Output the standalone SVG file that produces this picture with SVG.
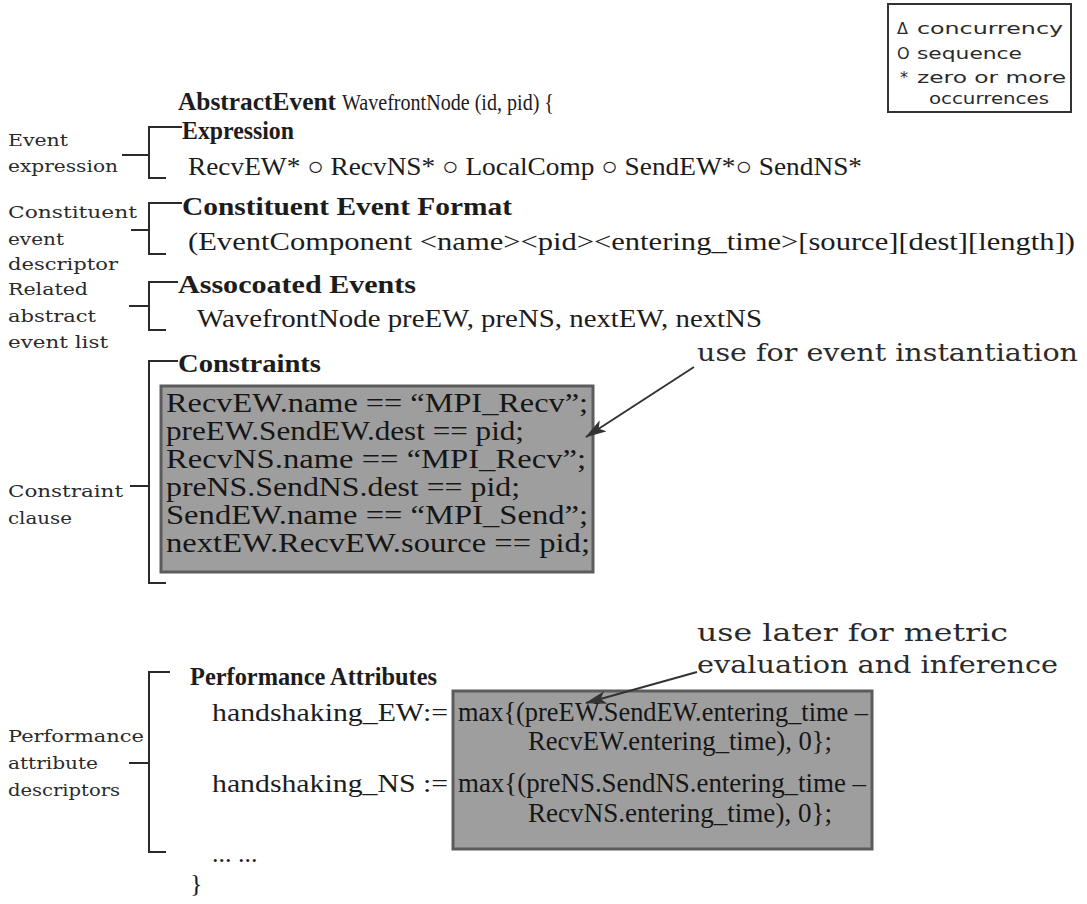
<svg xmlns="http://www.w3.org/2000/svg" width="1087" height="904" viewBox="0 0 1087 904">
  <defs>
    <style>
      .main { font-family: "Liberation Serif", "Times New Roman", serif; font-size: 26px; fill: #1c1c1c; }
      .bold { font-weight: bold; }
      .head { font-family: "Liberation Serif", "Times New Roman", serif; font-size: 25px; fill: #1c1c1c; }
      .headreg { font-family: "Liberation Serif", "Times New Roman", serif; font-size: 24px; fill: #1c1c1c; }
      .boxed { font-family: "Liberation Serif", "Times New Roman", serif; font-size: 27px; fill: #161616; }
      .boxed2 { font-family: "Liberation Serif", "Times New Roman", serif; font-size: 27px; fill: #161616; }
      .side { font-family: "DejaVu Serif", "Liberation Serif", serif; font-size: 16px; fill: #2a2a2a; }
      .legend { font-family: "DejaVu Sans", "Liberation Sans", sans-serif; font-size: 16px; fill: #2a2a2a; }
      .note { font-family: "DejaVu Serif", "Liberation Serif", serif; font-size: 25px; fill: #2a2a2a; }
      .bracket { fill: none; stroke: #2a2a2a; stroke-width: 2; }
      .shade { fill: #9e9e9e; stroke: #5c5c5c; stroke-width: 3; }
      .pointer { fill: none; stroke: #333; stroke-width: 2; }
    </style>
    <marker id="head" viewBox="0 0 20 12" refX="19" refY="6" markerWidth="22" markerHeight="13" markerUnits="userSpaceOnUse" orient="auto">
      <path d="M0,0 L20,6 L0,12 L5,6 Z" fill="#333"/>
    </marker>
    <clipPath id="clip-constraints">
      <rect x="162" y="387" width="430" height="183"/>
    </clipPath>
  </defs>
  <rect width="1087" height="904" fill="#ffffff"/>

  <!-- legend -->
  <g id="legend">
    <rect x="888" y="4" width="183" height="108" fill="#ffffff" stroke="#333" stroke-width="2"/>
    <text class="legend" x="897" y="34">Δ</text>
    <text class="legend" x="917" y="34" textLength="146" lengthAdjust="spacingAndGlyphs">concurrency</text>
    <text class="legend" x="897" y="59">O</text>
    <text class="legend" x="917" y="59" textLength="105" lengthAdjust="spacingAndGlyphs">sequence</text>
    <text class="legend" x="900" y="83">*</text>
    <text class="legend" x="917" y="83" textLength="149" lengthAdjust="spacingAndGlyphs">zero or more</text>
    <text class="legend" x="929" y="104" textLength="120" lengthAdjust="spacingAndGlyphs">occurrences</text>
  </g>

  <!-- header -->
  <g id="header">
    <text class="head bold" x="178" y="110" textLength="158" lengthAdjust="spacingAndGlyphs">AbstractEvent</text>
    <text class="headreg" x="342" y="110" textLength="212" lengthAdjust="spacingAndGlyphs">WavefrontNode (id, pid) {</text>
  </g>

  <!-- event expression -->
  <g id="expression">
    <text class="main bold" x="182" y="139" textLength="112" lengthAdjust="spacingAndGlyphs">Expression</text>
    <text class="main" x="188" y="175" textLength="674" lengthAdjust="spacingAndGlyphs">RecvEW* ○ RecvNS* ○ LocalComp ○ SendEW*○ SendNS*</text>
  </g>

  <!-- constituent event format -->
  <g id="format">
    <text class="main bold" x="182" y="215" textLength="330" lengthAdjust="spacingAndGlyphs">Constituent Event Format</text>
    <text class="main" x="188" y="250" textLength="887" lengthAdjust="spacingAndGlyphs">(EventComponent  &lt;name&gt;&lt;pid&gt;&lt;entering_time&gt;[source][dest][length])</text>
  </g>

  <!-- associated events -->
  <g id="associated">
    <text class="main bold" x="178" y="293" textLength="238" lengthAdjust="spacingAndGlyphs">Assocoated Events</text>
    <text class="main" x="197" y="327" textLength="565" lengthAdjust="spacingAndGlyphs">WavefrontNode preEW, preNS, nextEW, nextNS</text>
  </g>

  <!-- constraints -->
  <g id="constraints">
    <text class="main bold" x="178" y="372" textLength="143" lengthAdjust="spacingAndGlyphs">Constraints</text>
    <rect class="shade" x="161" y="386" width="432" height="186"/>
    <g clip-path="url(#clip-constraints)">
      <text class="boxed" x="166" y="412" textLength="422" lengthAdjust="spacingAndGlyphs">RecvEW.name == “MPI_Recv”;</text>
      <text class="boxed" x="166" y="440" textLength="358" lengthAdjust="spacingAndGlyphs">preEW.SendEW.dest == pid;</text>
      <text class="boxed" x="166" y="468" textLength="420" lengthAdjust="spacingAndGlyphs">RecvNS.name == “MPI_Recv”;</text>
      <text class="boxed" x="166" y="496" textLength="354" lengthAdjust="spacingAndGlyphs">preNS.SendNS.dest == pid;</text>
      <text class="boxed" x="166" y="524" textLength="422" lengthAdjust="spacingAndGlyphs">SendEW.name == “MPI_Send”;</text>
      <text class="boxed" x="166" y="552" textLength="424" lengthAdjust="spacingAndGlyphs">nextEW.RecvEW.source == pid;</text>
      <text class="boxed" x="166" y="581">... ...</text>
    </g>
  </g>

  <!-- performance attributes -->
  <g id="performance">
    <text class="main bold" x="190" y="685" textLength="247" lengthAdjust="spacingAndGlyphs">Performance Attributes</text>
    <text class="main" x="212" y="721" textLength="236" lengthAdjust="spacingAndGlyphs">handshaking_EW:=</text>
    <text class="main" x="212" y="792" textLength="236" lengthAdjust="spacingAndGlyphs">handshaking_NS :=</text>
    <rect class="shade" x="453" y="691" width="419" height="158"/>
    <text class="boxed2" x="458" y="721" textLength="410" lengthAdjust="spacingAndGlyphs">max{(preEW.SendEW.entering_time –</text>
    <text class="boxed2" x="528" y="750" textLength="304" lengthAdjust="spacingAndGlyphs">RecvEW.entering_time), 0};</text>
    <text class="boxed2" x="458" y="792" textLength="408" lengthAdjust="spacingAndGlyphs">max{(preNS.SendNS.entering_time –</text>
    <text class="boxed2" x="528" y="822" textLength="304" lengthAdjust="spacingAndGlyphs">RecvNS.entering_time), 0};</text>
    <text class="main" x="212" y="862">... ...</text>
    <text class="main" x="190" y="892">}</text>
  </g>

  <!-- side labels -->
  <g id="labels">
    <text class="side" x="8" y="146" textLength="60" lengthAdjust="spacingAndGlyphs">Event</text>
    <text class="side" x="8" y="172" textLength="110" lengthAdjust="spacingAndGlyphs">expression</text>
    <text class="side" x="8" y="218" textLength="129" lengthAdjust="spacingAndGlyphs">Constituent</text>
    <text class="side" x="8" y="245" textLength="56" lengthAdjust="spacingAndGlyphs">event</text>
    <text class="side" x="8" y="270" textLength="110" lengthAdjust="spacingAndGlyphs">descriptor</text>
    <text class="side" x="8" y="295" textLength="80" lengthAdjust="spacingAndGlyphs">Related</text>
    <text class="side" x="8" y="322" textLength="88" lengthAdjust="spacingAndGlyphs">abstract</text>
    <text class="side" x="8" y="348" textLength="100" lengthAdjust="spacingAndGlyphs">event list</text>
    <text class="side" x="8" y="497" textLength="115" lengthAdjust="spacingAndGlyphs">Constraint</text>
    <text class="side" x="8" y="524" textLength="64" lengthAdjust="spacingAndGlyphs">clause</text>
    <text class="side" x="8" y="742" textLength="136" lengthAdjust="spacingAndGlyphs">Performance</text>
    <text class="side" x="8" y="769" textLength="90" lengthAdjust="spacingAndGlyphs">attribute</text>
    <text class="side" x="8" y="796" textLength="112" lengthAdjust="spacingAndGlyphs">descriptors</text>
  </g>

  <!-- notes -->
  <g id="notes">
    <text class="note" x="697" y="361" textLength="381" lengthAdjust="spacingAndGlyphs">use for event instantiation</text>
    <text class="note" x="697" y="641" textLength="311" lengthAdjust="spacingAndGlyphs">use later for metric</text>
    <text class="note" x="697" y="673" textLength="361" lengthAdjust="spacingAndGlyphs">evaluation and inference</text>
  </g>

  <!-- brackets and pointers -->
  <g id="connectors">
    <path class="bracket" d="M182,127 H149 V178 H166 M122,155 H149"/>
    <path class="bracket" d="M182,203 H149 V254 H166 M131,230 H149"/>
    <path class="bracket" d="M178,282 H149 V330 H166 M129,306 H149"/>
    <path class="bracket" d="M178,361 H149 V583 H166 M130,486 H149"/>
    <path class="bracket" d="M170,672 H149 V852 H166 M129,763 H149"/>
    <line class="pointer" x1="694" y1="367" x2="586" y2="437" marker-end="url(#head)"/>
    <line class="pointer" x1="697" y1="672" x2="586" y2="703" marker-end="url(#head)"/>
  </g>
</svg>
